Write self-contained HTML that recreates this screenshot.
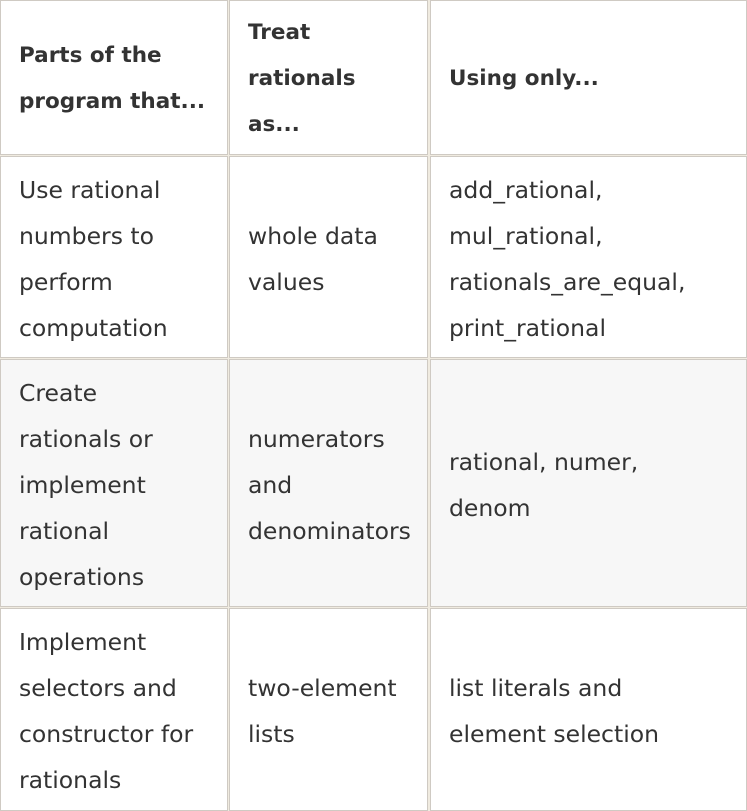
<!DOCTYPE html>
<html><head><style>
body{margin:0;background:#fff;width:747px;height:811px;overflow:hidden;font-family:"DejaVu Sans","Liberation Sans",sans-serif;color:#333;}
.c{position:absolute;box-sizing:border-box;border:1px solid #cfcac3;display:flex;align-items:center;padding:3px 0 0 18px;font-size:23.5px;line-height:46px;background:#fff;white-space:nowrap;}
.h{font-weight:bold;font-size:21.5px;}
.g{background:#f7f7f7;}
.gap{position:absolute;left:0;top:0;width:747px;height:811px;background:#f0ebe0;}
</style></head><body>
<div class="gap"></div>
<div class="c h" style="left:0;top:0;width:228px;height:155px">Parts of the<br>program that...</div>
<div class="c h" style="left:229px;top:0;width:199px;height:155px">Treat<br>rationals<br>as...</div>
<div class="c h" style="left:430px;top:0;width:317px;height:155px">Using only...</div>

<div class="c" style="left:0;top:156px;width:228px;height:202px">Use rational<br>numbers to<br>perform<br>computation</div>
<div class="c" style="left:229px;top:156px;width:199px;height:202px">whole data<br>values</div>
<div class="c" style="left:430px;top:156px;width:317px;height:202px">add_rational,<br>mul_rational,<br>rationals_are_equal,<br>print_rational</div>

<div class="c g" style="left:0;top:359px;width:228px;height:248px">Create<br>rationals or<br>implement<br>rational<br>operations</div>
<div class="c g" style="left:229px;top:359px;width:199px;height:248px">numerators<br>and<br>denominators</div>
<div class="c g" style="left:430px;top:359px;width:317px;height:248px">rational, numer,<br>denom</div>

<div class="c" style="left:0;top:608px;width:228px;height:203px">Implement<br>selectors and<br>constructor for<br>rationals</div>
<div class="c" style="left:229px;top:608px;width:199px;height:203px">two-element<br>lists</div>
<div class="c" style="left:430px;top:608px;width:317px;height:203px">list literals and<br>element selection</div>
</body></html>
